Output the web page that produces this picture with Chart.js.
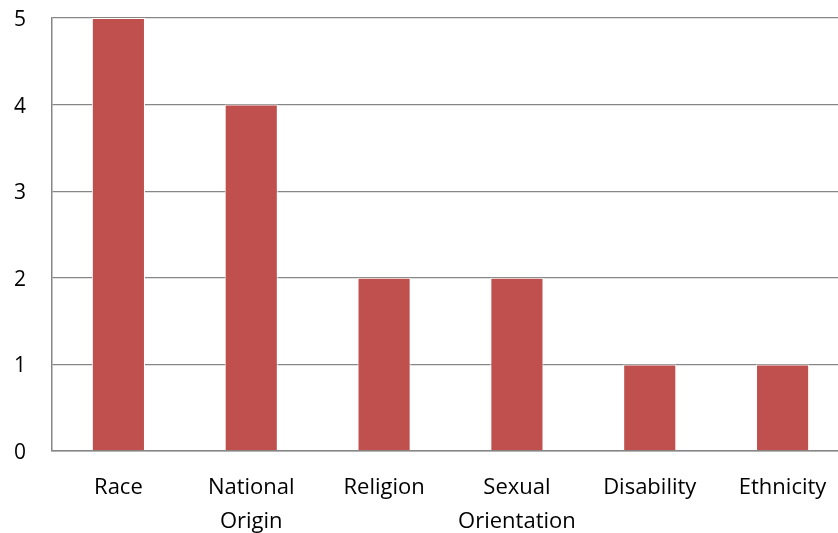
<!DOCTYPE html>
<html>
<head>
<meta charset="utf-8">
<script src="https://cdn.jsdelivr.net/npm/chart.js@4/dist/chart.umd.min.js"></script>
<style>
  html, body { margin: 0; padding: 0; background: #fff; overflow: hidden; }
  #wrap { width: 850px; height: 533px; }
</style>
</head>
<body>
<div id="wrap"><canvas id="c"></canvas></div>
<script>
// categories and counts
const categories = ["Race", ["National", "Origin"], "Religion", ["Sexual", "Orientation"], "Disability", "Ethnicity"];
const counts = [5, 4, 2, 2, 1, 1];
const yTicks = [0, 1, 2, 3, 4, 5];

const gridGray = "#868686";
const font = { family: "'Open Sans', sans-serif", size: 20 };

new Chart(document.getElementById("c"), {
  type: "bar",
  data: {
    labels: categories,
    datasets: [{
      data: counts,
      backgroundColor: "#c0504d",
      borderColor: "#ffffff",
      borderWidth: 1,
      barPercentage: 0.4,
      categoryPercentage: 1
    }]
  },
  options: {
    responsive: true,
    maintainAspectRatio: false,
    animation: false,
    layout: { padding: { left: 14, top: 18, right: 1, bottom: 0 } },
    plugins: { legend: { display: false }, tooltip: { enabled: false } },
    scales: {
      x: {
        grid: { display: false, drawTicks: false },
        border: { display: true, color: gridGray, width: 1.5 },
        ticks: {
          color: "#000",
          font: { ...font, size: 22, lineHeight: 1.55 },
          padding: 20,
          maxRotation: 0,
          autoSkip: false
        },
        afterFit: (s) => { s.height = 82; }
      },
      y: {
        min: 0,
        max: 5,
        afterBuildTicks: (s) => { s.ticks = yTicks.map(v => ({ value: v })); },
        grid: { color: gridGray, lineWidth: 1.3, drawTicks: false },
        border: { display: true, color: gridGray, width: 1.5 },
        ticks: {
          color: "#000",
          font: { ...font, size: 21 },
          crossAlign: "far",
          padding: 0,
          labelOffset: 2
        },
        afterFit: (s) => { s.width = 38; }
      }
    }
  }
});
</script>
</body>
</html>
